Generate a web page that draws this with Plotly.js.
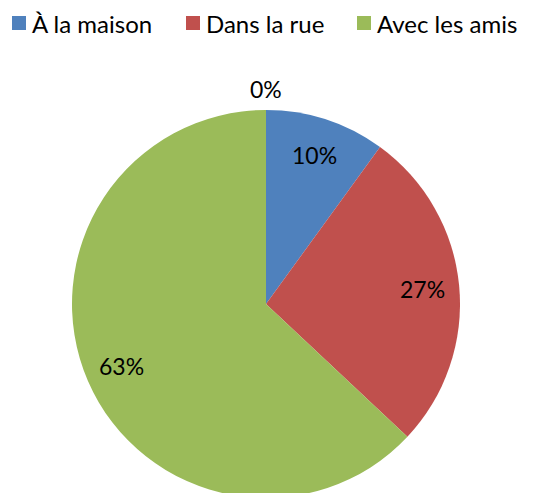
<!DOCTYPE html>
<html>
<head>
<meta charset="utf-8">
<script src="https://cdn.plot.ly/plotly-3.0.1.min.js"></script>
<style>
html,body{margin:0;padding:0;overflow:hidden;background:#fff;}
#chart{width:534px;height:500px;}
</style>
</head>
<body>
<div id="chart"></div>
<script>
var categories = ['À la maison', 'Dans la rue', 'Avec les amis', 'Autre'];
var values = [10, 27, 63, 0];
var colors = ['#4F81BD', '#C0504D', '#9BBB59', '#8064A2'];
var legendCount = 3;

var W = 534, H = 500;
var cx = 266, cy = 304, R = 194;
var FONT = 'Lato, "Open Sans", sans-serif';

var total = values.reduce(function(a, b){ return a + b; }, 0);
var annotations = [];
var cum = 0;
for (var i = 0; i < values.length; i++) {
  var v = values[i];
  var a = (cum + v / 2) / total * 2 * Math.PI;
  var r = v === 0 ? R + 21 : 0.81 * R;
  var px = cx + r * Math.sin(a), py = cy - r * Math.cos(a);
  annotations.push({
    xref: 'paper', yref: 'paper', x: px / W, y: 1 - py / H,
    xanchor: 'center', yanchor: 'middle', showarrow: false,
    text: Math.round(v / total * 100) + '%',
    font: {family: FONT, size: 23, color: '#000'}
  });
  cum += v;
}

var shapes = [];
var legX = [12, 186, 357];
for (var j = 0; j < legendCount; j++) {
  shapes.push({type: 'rect', xref: 'paper', yref: 'paper',
    x0: legX[j] / W, x1: (legX[j] + 14) / W, y0: 1 - 30 / H, y1: 1 - 16 / H,
    fillcolor: colors[j], line: {width: 0}});
  annotations.push({xref: 'paper', yref: 'paper', x: (legX[j] + 18) / W, y: 1 - 23 / H,
    xanchor: 'left', yanchor: 'middle', showarrow: false, text: categories[j],
    font: {family: FONT, size: 24, color: '#000'}});
}

var trace = {
  type: 'pie',
  labels: categories,
  values: values,
  sort: false,
  direction: 'clockwise',
  rotation: 0,
  textinfo: 'none',
  hoverinfo: 'label+percent',
  marker: {colors: colors, line: {width: 0}},
  domain: {x: [(cx - R) / W, (cx + R) / W], y: [1 - (cy + R) / H, 1 - (cy - R) / H]},
  showlegend: false
};

Plotly.newPlot('chart', [trace], {
  width: W, height: H,
  margin: {l: 0, r: 0, t: 0, b: 0},
  paper_bgcolor: '#fff',
  showlegend: false,
  annotations: annotations,
  shapes: shapes
}, {displayModeBar: false, staticPlot: true});
</script>
</body>
</html>
